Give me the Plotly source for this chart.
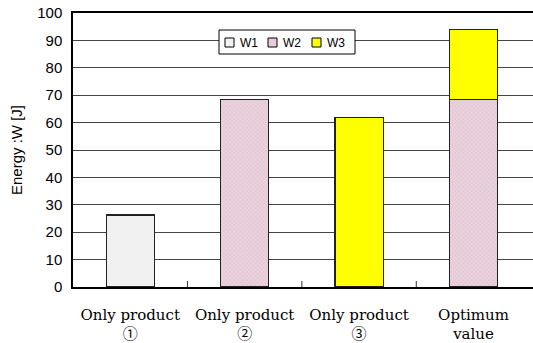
import plotly.graph_objects as go

categories = ["Only product<br>①", "Only product<br>②", "Only product<br>③", "Optimum<br>value"]
w1 = [26.3, None, None, None]
w2 = [None, 68.5, None, 68.5]
w3 = [None, None, 62, 25.5]
y_ticks = list(range(0, 101, 10))
series_names = ["W1", "W2", "W3"]
legend_fill = ["#f2f2f2", "#e6cbd8", "#ffff00"]

W, H = 533, 343
L, R, T, B = 73, 0, 13, 56
PW, PH = W - L - R, H - T - B


def px(xp):
    return (xp - L) / PW


def py(yp):
    return (H - B - yp) / PH


fig = go.Figure()
fig.add_trace(go.Bar(x=categories, y=w1, name=series_names[0],
                     marker=dict(color="white", line=dict(color="#222", width=1.2),
                                 pattern=dict(shape=".", fgcolor="#c4c4c4", bgcolor="#f6f6f6", size=2, solidity=0.3))))
fig.add_trace(go.Bar(x=categories, y=w2, name=series_names[1],
                     marker=dict(color="#e6cbd8", line=dict(color="#222", width=1.2),
                                 pattern=dict(shape="x", fgcolor="#c9a3b6", bgcolor="#ead3de", size=3, solidity=0.3))))
fig.add_trace(go.Bar(x=categories, y=w3, name=series_names[2],
                     marker=dict(color="#ffff00", line=dict(color="#222", width=1.2))))

# custom compact legend
shapes = [dict(type="rect", xref="paper", yref="paper", x0=px(219), x1=px(355), y0=py(30), y1=py(54),
               line=dict(color="black", width=1), fillcolor="white", layer="above")]
annotations = []
sq_x = [225, 268, 312]
for i, name in enumerate(series_names):
    shapes.append(dict(type="rect", xref="paper", yref="paper", x0=px(sq_x[i]), x1=px(sq_x[i] + 9),
                       y0=py(38), y1=py(47), line=dict(color="black", width=1),
                       fillcolor=legend_fill[i], layer="above"))
    annotations.append(dict(xref="paper", yref="paper", x=px(sq_x[i] + 13), y=py(42.5), text=name,
                            showarrow=False, xanchor="left", yanchor="middle",
                            font=dict(size=12, color="black")))

# category boundary tick marks (inside, at the bottom axis)
for b in [0.5, 1.5, 2.5]:
    shapes.append(dict(type="line", xref="x", yref="paper", x0=b, x1=b, y0=0, y1=6 / PH,
                       line=dict(color="#333", width=1), layer="above"))

fig.update_layout(
    barmode="stack", bargap=0.58,
    width=W, height=H,
    margin=dict(l=L, r=R, t=T, b=B),
    plot_bgcolor="white", paper_bgcolor="white",
    font=dict(family="Liberation Sans, Arial, sans-serif", size=12, color="black"),
    showlegend=False,
    shapes=shapes, annotations=annotations,
)
fig.update_yaxes(range=[0, 100], tickvals=y_ticks, showgrid=True, gridcolor="#444", gridwidth=1,
                 showline=True, linecolor="black", linewidth=1.5, mirror=True,
                 ticks="", tickfont=dict(size=15), ticklabelstandoff=6, automargin=False,
                 title=dict(text="Energy :W [J]", font=dict(size=15), standoff=11), zeroline=False)
fig.update_xaxes(range=[-0.5, 3.52], showline=True, linecolor="black", linewidth=1.5, mirror=True,
                 ticks="", automargin=False, ticklabelstandoff=13,
                 tickfont=dict(family="DejaVu Serif, Noto Sans CJK JP, serif", size=15))

fig.write_html("out.html", config={"displayModeBar": False},
               post_script="document.body.style.margin='0';document.body.style.overflow='hidden';")
